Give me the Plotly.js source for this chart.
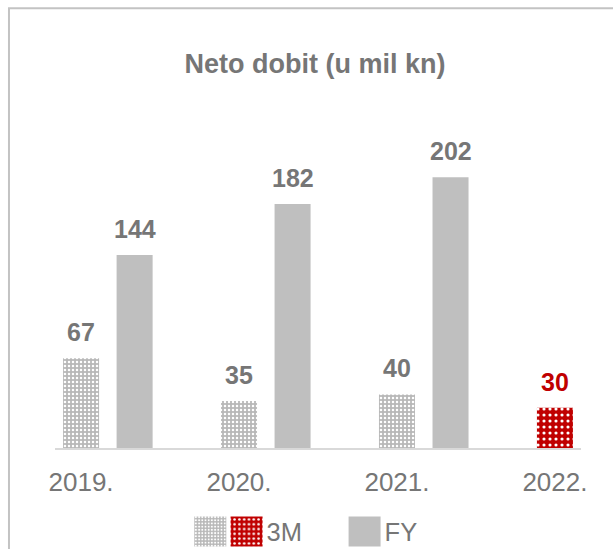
<!DOCTYPE html>
<html>
<head>
<meta charset="utf-8">
<script src="https://cdn.plot.ly/plotly-3.0.1.min.js"></script>
<style>html,body{margin:0;padding:0;background:#fff;}#chart{width:613px;height:549px;}</style>
</head>
<body>
<div id="chart"></div>
<script>
// ---- data ----
var categories = ["2019.", "2020.", "2021.", "2022."];
var values3M = [67, 35, 40, 30];
var valuesFY = [144, 182, 202, null];
var seriesNames = ["3M", "FY"];
var chartTitle = "Neto dobit (u mil kn)";

// ---- style ----
var FONT = "Liberation Sans, Arial, sans-serif";
var GREY_TXT = "#767676";
var GREY_BAR = "#bfbfbf";
var RED = "#c00000";
var BAR_W = 0.228;
var FY_SHIFT = 0.339;
var idx = categories.map(function (c, i) { return i; });

var grey3M = {
  type: "bar", name: "", legend: "legend2",
  x: categories.slice(0, 3), y: values3M.slice(0, 3),
  width: BAR_W, offset: -BAR_W / 2,
  marker: { color: GREY_BAR, line: { width: 0 },
    pattern: { shape: ".", fgcolor: "#ffffff", bgcolor: "#b8b8b8", size: 4, solidity: 0.3 } },
  hoverinfo: "skip"
};
var red3M = {
  type: "bar", name: seriesNames[0], legend: "legend", legendwidth: 73,
  x: categories.slice(3), y: values3M.slice(3),
  width: BAR_W, offset: -BAR_W / 2,
  marker: { color: RED, line: { width: 0 },
    pattern: { shape: ".", fgcolor: "#ffffff", bgcolor: RED, size: 6, solidity: 0.22 } },
  hoverinfo: "skip"
};
var fy = {
  type: "bar", name: seriesNames[1], legend: "legend",
  x: categories, y: valuesFY,
  width: BAR_W, offset: FY_SHIFT - BAR_W / 2,
  marker: { color: GREY_BAR, line: { width: 0 } },
  hoverinfo: "skip"
};

var LBL_SIZE = 25;
var annotations = [];
values3M.forEach(function (v, i) {
  annotations.push({ x: idx[i], y: v, xref: "x", yref: "y", text: "<b>" + v + "</b>",
    showarrow: false, yanchor: "bottom", yshift: 10,
    font: { family: FONT, size: LBL_SIZE, color: i === 3 ? RED : GREY_TXT } });
});
valuesFY.forEach(function (v, i) {
  if (v === null) return;
  annotations.push({ x: idx[i] + FY_SHIFT, y: v, xref: "x", yref: "y", text: "<b>" + v + "</b>",
    showarrow: false, yanchor: "bottom", yshift: 10,
    font: { family: FONT, size: LBL_SIZE, color: GREY_TXT } });
});

var layout = {
  width: 613, height: 549,
  margin: { l: 55, r: 32, t: 100, b: 101, autoexpand: false },
  paper_bgcolor: "#ffffff", plot_bgcolor: "#ffffff",
  font: { family: FONT, color: GREY_TXT },
  barmode: "overlay",
  showlegend: true,
  title: { text: "<b>" + chartTitle + "</b>", font: { family: FONT, size: 27, color: GREY_TXT },
    x: 0.514, xanchor: "center", y: 0.884, yanchor: "middle" },
  xaxis: {
    type: "category", range: [-0.165, 3.165], fixedrange: true, automargin: false,
    showline: true, linecolor: "#d9d9d9", linewidth: 2,
    showgrid: false, zeroline: false, ticks: "", ticklabelstandoff: 10,
    tickfont: { family: FONT, size: 26, color: GREY_TXT }
  },
  yaxis: { range: [0, 259.7], visible: false, showgrid: false, zeroline: false, fixedrange: true, automargin: false },
  legend: { orientation: "h", x: 0.3262, xanchor: "left", y: -0.241, yanchor: "middle",
    font: { family: FONT, size: 25.5, color: GREY_TXT }, bgcolor: "rgba(0,0,0,0)" },
  legend2: { orientation: "h", x: 0.2572, xanchor: "left", y: -0.241, yanchor: "middle",
    font: { family: FONT, size: 25.5, color: GREY_TXT }, bgcolor: "rgba(0,0,0,0)" },
  annotations: annotations,
  shapes: [{ type: "rect", xref: "paper", yref: "paper",
    x0: -0.0875, x1: 1.08, y0: -0.33, y1: 1.264,
    line: { color: "#c3c3c3", width: 2 }, fillcolor: "rgba(0,0,0,0)", layer: "below" }]
};

function bigSwatches() {
  var gd = document.getElementById("chart");
  gd.querySelectorAll("g.legendpoints path").forEach(function (p) {
    p.setAttribute("d", "M16,15H-16V-15H16Z");
  });
}

Plotly.newPlot("chart", [grey3M, red3M, fy], layout, { staticPlot: true, displayModeBar: false })
  .then(function (gd) {
    bigSwatches();
    gd.on("plotly_afterplot", bigSwatches);
    setTimeout(bigSwatches, 50);
    setTimeout(bigSwatches, 300);
  });
</script>
</body>
</html>
